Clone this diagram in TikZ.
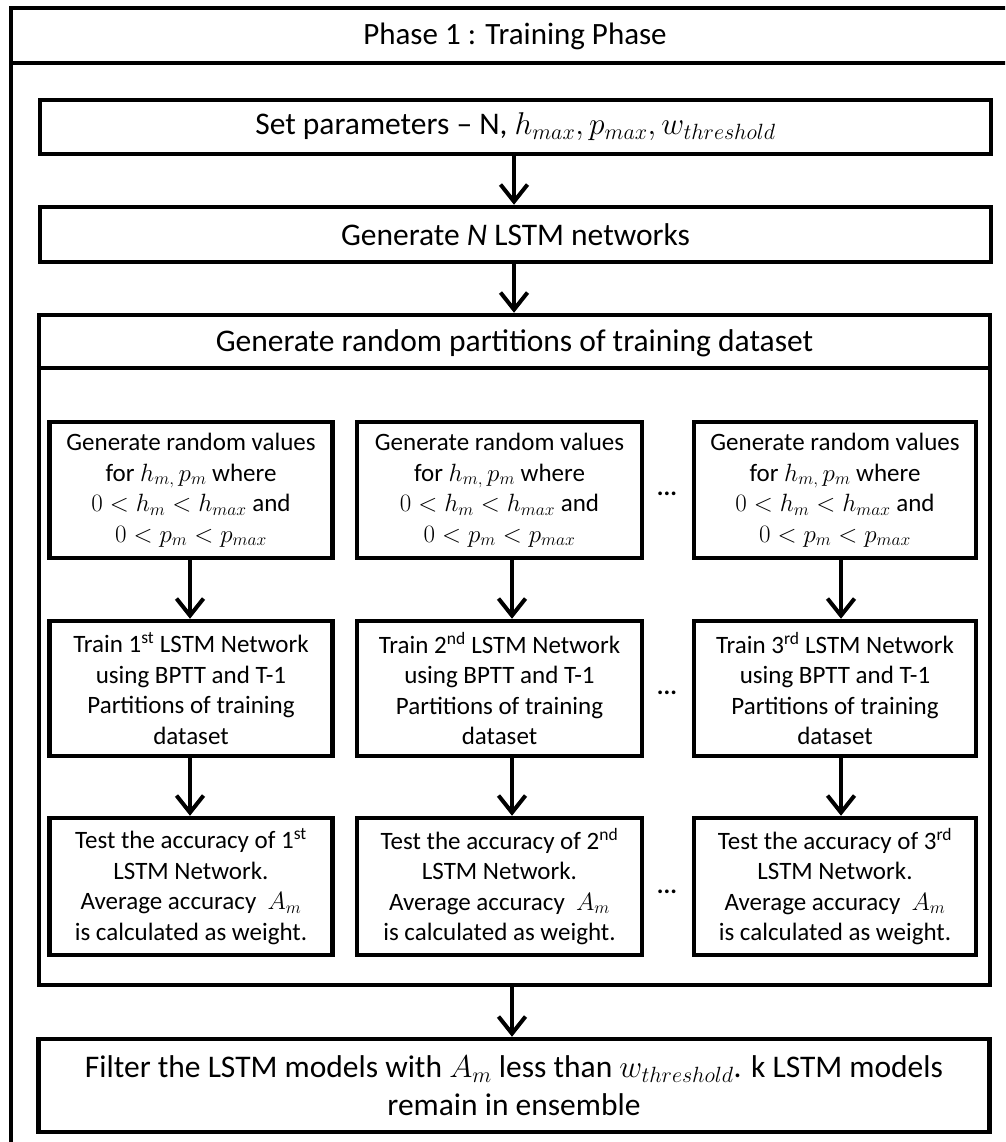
\RequirePackage{fix-cm}
\documentclass[tikz,border=0pt]{standalone}
\usepackage{fontspec}
\setmainfont{Carlito}
\usetikzlibrary{arrows.meta}

\begin{document}
\begin{tikzpicture}[x=1pt,y=-1pt,
  frame/.style={line width=4.5pt},
  bigbox/.style={draw, line width=4.5pt, minimum width=951pt, inner sep=0pt,
    align=center, font=\fontsize{31.5}{38}\selectfont},
  cell/.style={draw, line width=4.5pt, inner sep=0pt, align=center,
    font=\fontsize{25}{30.5}\selectfont},
  flow/.style={line width=4pt, -{Straight Barb[length=17pt,width=27pt]}},
  gap/.style={font=\fontsize{25}{25}\selectfont\bfseries}
]
\useasboundingbox (0,0) rectangle (1005,1142);
\clip (0,0) rectangle (1005,1142);

% phase frame with its title band
\draw[frame] (11,1200) -- (11,8) -- (1030,8) -- (1030,1200);
\draw[frame] (11,63) -- (1030,63);
\node[font=\fontsize{31}{36}\selectfont] (title) at (515,36) {Phase 1 : Training Phase};

% top-level steps
\node[bigbox, minimum height=54pt] (setp) at (515.5,127)
  {Set parameters -- N, $h_{max}, p_{max}, w_{threshold}$};
\node[bigbox, minimum height=55pt] (gen) at (515.5,234.5)
  {Generate \textit{N} LSTM networks};

% partition container
\node[draw, line width=4.5pt, minimum width=951pt, minimum height=670pt, inner sep=0pt]
  (part) at (514.5,650) {};
\draw[line width=4.5pt] (part.west |- 0,368) -- (part.east |- 0,368);
\node[font=\fontsize{31.5}{36}\selectfont] (parthead) at (514.5,343)
  {Generate random partitions of training dataset};

\node[bigbox, minimum height=93pt] (filt) at (514,1085.5)
  {Filter the LSTM models with $A_m$ less than $w_{threshold}$. k LSTM models\\
   remain in ensemble};

% per-network cells: three columns, three rows
\foreach \c/\cx/\cw/\ord in {1/191/283/st, 2/499.5/285/nd, 3/835/282/rd}{
  \node[cell, minimum width=\cw pt, minimum height=136pt] (r1c\c) at (\cx,490)
    {Generate random values\\ for $h_{m,}\,p_m$ where\\
     $0<h_m<h_{max}$ and\\ $0<p_m<p_{max}$};
  \node[cell, minimum width=\cw pt, minimum height=135pt] (r2c\c) at (\cx,688.5)
    {Train \c\textsuperscript{\ord}\ LSTM Network\\ using BPTT and T-1\\
     Partitions of training\\ dataset};
  \node[cell, minimum width=\cw pt, minimum height=137pt] (r3c\c) at (\cx,886.5)
    {Test the accuracy of \c\textsuperscript{\ord}\\ LSTM Network.\\
     Average accuracy\ \ $A_m$\\ is calculated as weight.};
}

% arrow axes
\coordinate (ax) at (514,0);
\coordinate (a1) at (190,0);
\coordinate (a2) at (512,0);
\coordinate (a3) at (841,0);

\draw[flow] (setp.south -| ax) -- (gen.north -| ax);
\draw[flow] (gen.south -| ax) -- (part.north -| ax);
\draw[flow] (part.south -| a2) -- (filt.north -| a2);
\foreach \c in {1,2,3}{
  \draw[flow] (r1c\c.south -| a\c) -- (r2c\c.north -| a\c);
  \draw[flow] (r2c\c.south -| a\c) -- (r3c\c.north -| a\c);
}

% ellipses between the second and third columns
\node[gap] (d1) at (667,494) {...};
\node[gap] (d2) at (667,693) {...};
\node[gap] (d3) at (667,892) {...};
\end{tikzpicture}
\end{document}
